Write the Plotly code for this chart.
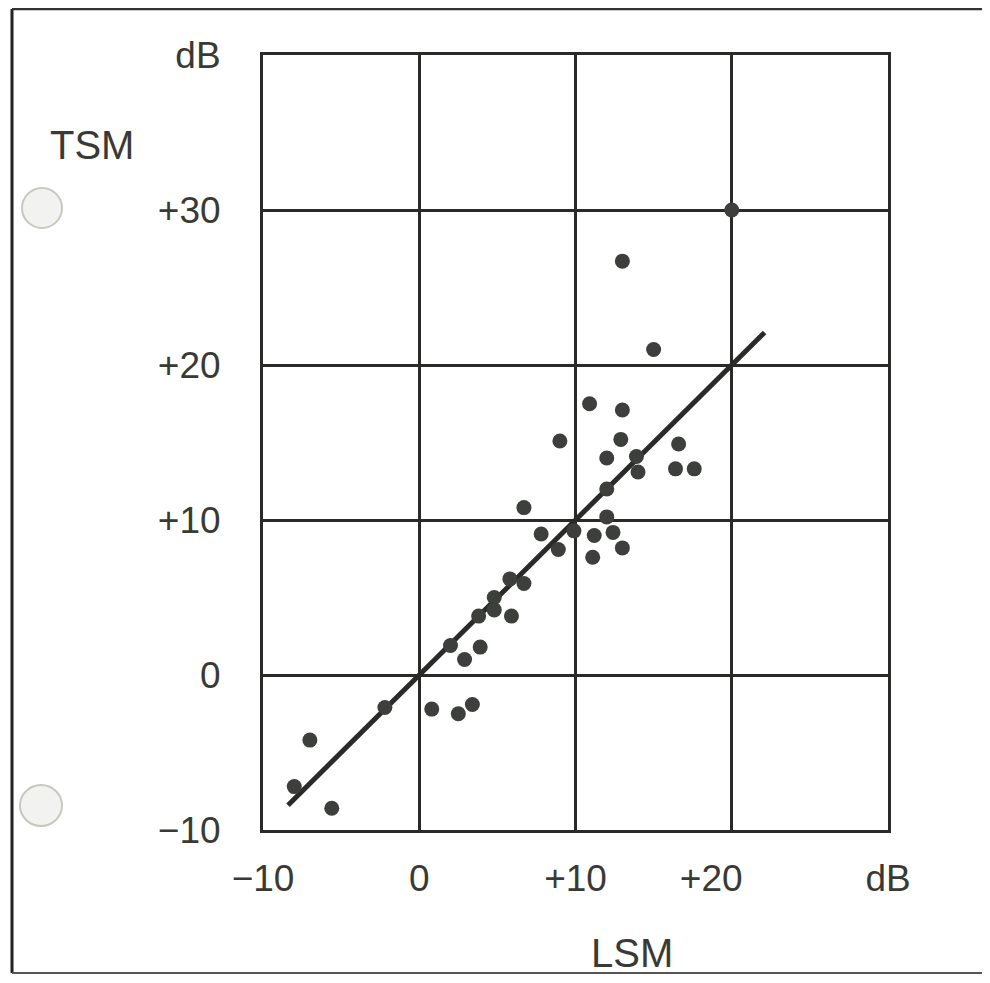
import plotly.graph_objects as go

# Data (LSM vs TSM, dB)
lsm = [20.0, 13.0, 15.0, 10.9, 13.0, 9.0, 12.9, 16.6, 12.0, 13.9, 14.0, 16.4, 17.6,
       12.0, 6.7, 12.0, 9.9, 7.8, 11.2, 12.4, 13.0, 11.1, 8.9, 5.8, 6.7, 4.8, 4.8,
       3.8, 5.9, 2.0, 3.9, 2.9, -2.2, -7.0, -8.0, -5.6, 0.8, 2.5, 3.4]
tsm = [30.0, 26.7, 21.0, 17.5, 17.1, 15.1, 15.2, 14.9, 14.0, 14.1, 13.1, 13.3, 13.3,
       12.0, 10.8, 10.2, 9.3, 9.1, 9.0, 9.2, 8.2, 7.6, 8.1, 6.2, 5.9, 5.0, 4.2,
       3.8, 3.8, 1.9, 1.8, 1.0, -2.1, -4.2, -7.2, -8.6, -2.2, -2.5, -1.9]

fit_x = [-8.4, 22.1]
fit_y = [-8.4, 22.1]

x_tickvals = [-10, 0, 10, 20, 30]
x_ticktext = ["\u221210", "0", "+10", "+20\u00a0\u00a0\u00a0\u00a0", "dB"]
y_tickvals = [-10, 0, 10, 20, 30, 40]
y_ticktext = ["\u221210", "0", "+10", "+20", "+30", "dB"]

ink = "#2a2a28"
txt = "#3a3a35"
font = "Liberation Sans"

fig = go.Figure()
fig.add_trace(go.Scatter(x=fit_x, y=fit_y, mode="lines",
                         line=dict(color=ink, width=5), showlegend=False,
                         hoverinfo="skip"))
fig.add_trace(go.Scatter(x=lsm, y=tsm, mode="markers",
                         marker=dict(color="#3d3f3c", size=15), showlegend=False))

OFF = 8  # page body margin
W, H = 990 - 2 * OFF, 983 - 2 * OFF
# target plot area in window pixels
L, R, T, B = 263, 888, 55, 830
pw, ph = R - L, B - T


def px(x):
    return (x - L) / pw


def py(y):
    return (B - y) / ph


shapes = [
    # page border (left, top, bottom)
    dict(type="line", xref="paper", yref="paper", x0=px(12), x1=px(12), y0=py(9), y1=py(973),
         line=dict(color="#222", width=3)),
    dict(type="line", xref="paper", yref="paper", x0=px(12), x1=px(990), y0=py(9), y1=py(9),
         line=dict(color="#333", width=2.5)),
    dict(type="line", xref="paper", yref="paper", x0=px(12), x1=px(990), y0=py(973), y1=py(973),
         line=dict(color="#555", width=2)),
    # punched holes
    dict(type="circle", xref="paper", yref="paper", x0=px(22), x1=px(62), y0=py(188), y1=py(228),
         line=dict(color="#c8c8c0", width=2), fillcolor="#f2f2f0"),
    dict(type="circle", xref="paper", yref="paper", x0=px(20), x1=px(62), y0=py(785), y1=py(826),
         line=dict(color="#c8c8c0", width=2), fillcolor="#f2f2f0"),
]

annotations = [
    dict(text="TSM", x=px(92), y=py(145), xref="paper", yref="paper", showarrow=False,
         font=dict(family=font, size=40, color=txt), xanchor="center", yanchor="middle"),
    dict(text="LSM", x=px(632), y=py(953), xref="paper", yref="paper", showarrow=False,
         font=dict(family=font, size=40, color=txt), xanchor="center", yanchor="middle"),
]

axis_common = dict(showgrid=True, gridcolor=ink, gridwidth=2.5, zeroline=False,
                   showline=True, linecolor=ink, linewidth=3, mirror=True,
                   ticks="", tickfont=dict(family=font, size=37, color=txt))

fig.update_xaxes(range=[-10, 30], tickvals=x_tickvals, ticktext=x_ticktext,
                 ticklabelstandoff=14, **axis_common)
fig.update_yaxes(range=[-10, 40], tickvals=y_tickvals, ticktext=y_ticktext,
                 ticklabelstandoff=32, **axis_common)

fig.update_layout(width=W, height=H,
                  margin=dict(l=L - OFF, r=(990 - OFF) - R, t=T - OFF, b=(983 - OFF) - B),
                  paper_bgcolor="white", plot_bgcolor="white",
                  shapes=shapes, annotations=annotations, showlegend=False)

fig.write_html("out.html")
